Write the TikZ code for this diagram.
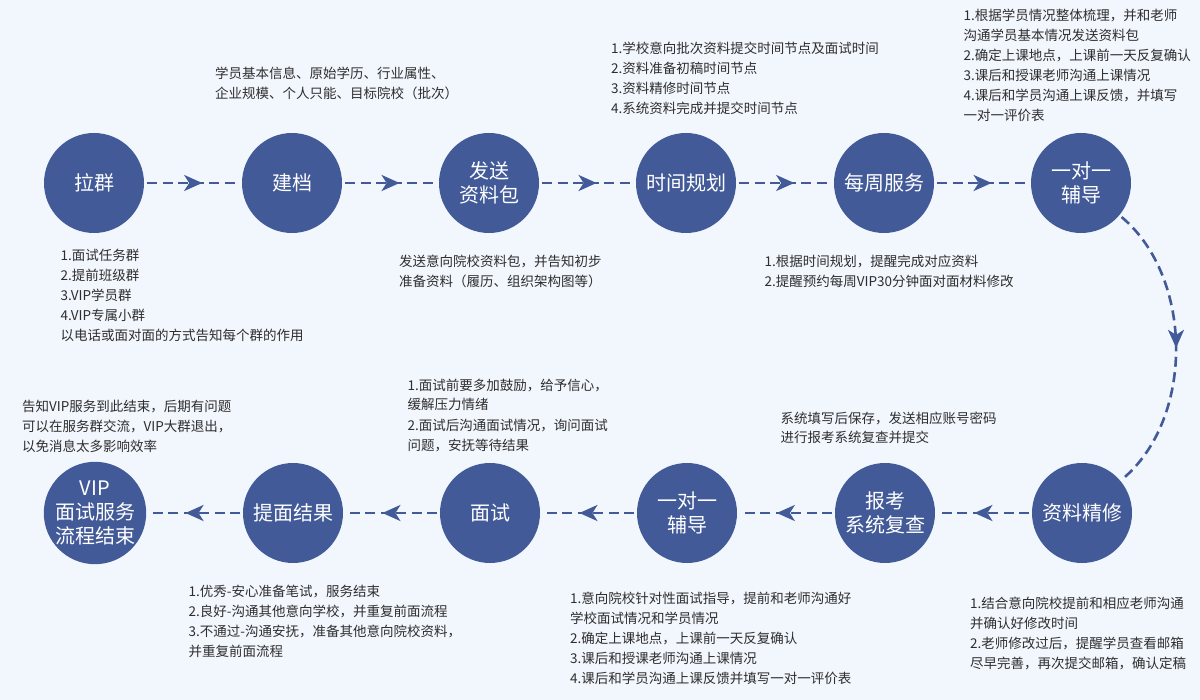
\documentclass[tikz,border=0pt]{standalone}
\usepackage{tikz}
\usepackage{xcolor}
\usepackage{fontspec}
\setmainfont{Noto Sans CJK SC}
\usetikzlibrary{arrows.meta,decorations.markings}
\definecolor{stepblue}{HTML}{425A98}
\definecolor{pagebg}{HTML}{F2F6FD}
\definecolor{notegray}{HTML}{2E2E2E}

\begin{document}
\begin{tikzpicture}[x=1pt,y=1pt]
\tikzstyle{every node}+=[inner sep=0pt]
\tikzstyle{stepnode}=[circle,fill=stepblue,minimum size=100pt,outer sep=3pt,text=white,align=center,font=\fontsize{20}{24}\selectfont]
\tikzstyle{notenode}=[anchor=base west,text=notegray,align=left,font=\fontsize{13.5}{20}\selectfont]
\tikzstyle{flow}[0.6]=[stepblue,line width=2.6pt,dash pattern=on 10pt off 5.5pt,postaction={decorate},decoration={markings,mark=at position #1 with {\arrow{Stealth[length=18pt,width=16pt,inset=5pt]}}}]
\useasboundingbox (0,0) rectangle (1200,-700);
\fill [pagebg] (0,0) rectangle (1200,-700);
% top row
\node [stepnode] (lq) at (94,-183) {拉群};
\node [stepnode] (jd) at (292,-183) {建档};
\node [stepnode] (fs) at (489,-183) {发送\\资料包};
\node [stepnode] (sj) at (686,-183) {时间规划};
\node [stepnode] (mz) at (884,-183) {每周服务};
\node [stepnode] (fd) at (1081,-183) {一对一\\辅导};
% bottom row
\node [stepnode] (jx) at (1082,-513) {资料精修};
\node [stepnode] (bk) at (885,-513) {报考\\系统复查};
\node [stepnode] (fdb) at (687,-513) {一对一\\辅导};
\node [stepnode] (ms) at (490,-513) {面试};
\node [stepnode] (tm) at (293,-513) {提面结果};
\node [stepnode] (js) at (95,-513) {VIP\\面试服务\\流程结束};
% connectors
\draw [flow] (lq) -- (jd);
\draw [flow] (jd) -- (fs);
\draw [flow] (fs) -- (sj);
\draw [flow] (sj) -- (mz);
\draw [flow] (mz) -- (fd);
\draw [flow=0.5] (fd) to [out=-40,in=40,distance=94pt] (jx);
\draw [flow] (jx) -- (bk);
\draw [flow] (bk) -- (fdb);
\draw [flow] (fdb) -- (ms);
\draw [flow] (ms) -- (tm);
\draw [flow] (tm) -- (js);
% notes (placed at the baseline of their last line)
\node [notenode] (lqnote) at (60.5,-341) {1.面试任务群\\2.提前班级群\\3.VIP学员群\\4.VIP专属小群\\以电话或面对面的方式告知每个群的作用};
\node [notenode] (jdnote) at (215,-99) {学员基本信息、原始学历、行业属性、\\企业规模、个人只能、目标院校（批次）};
\node [notenode] (fsnote) at (399,-287) {发送意向院校资料包，并告知初步\\准备资料（履历、组织架构图等）};
\node [notenode] (sjnote) at (611,-114) {1.学校意向批次资料提交时间节点及面试时间\\2.资料准备初稿时间节点\\3.资料精修时间节点\\4.系统资料完成并提交时间节点};
\node [notenode] (mznote) at (764.5,-287) {1.根据时间规划，提醒完成对应资料\\2.提醒预约每周VIP30分钟面对面材料修改};
\node [notenode] (fdnote) at (963.5,-121) {1.根据学员情况整体梳理，并和老师\\沟通学员基本情况发送资料包\\2.确定上课地点，上课前一天反复确认\\3.课后和授课老师沟通上课情况\\4.课后和学员沟通上课反馈，并填写\\一对一评价表};
\node [notenode] (jxnote) at (970,-668) {1.结合意向院校提前和相应老师沟通\\并确认好修改时间\\2.老师修改过后，提醒学员查看邮箱\\尽早完善，再次提交邮箱，确认定稿};
\node [notenode] (bknote) at (780.5,-443) {系统填写后保存，发送相应账号密码\\进行报考系统复查并提交};
\node [notenode] (fdbnote) at (570,-683) {1.意向院校针对性面试指导，提前和老师沟通好\\学校面试情况和学员情况\\2.确定上课地点，上课前一天反复确认\\3.课后和授课老师沟通上课情况\\4.课后和学员沟通上课反馈并填写一对一评价表};
\node [notenode] (msnote) at (407.5,-450) {1.面试前要多加鼓励，给予信心，\\缓解压力情绪\\2.面试后沟通面试情况，询问面试\\问题，安抚等待结果};
\node [notenode] (tmnote) at (188.5,-656) {1.优秀-安心准备笔试，服务结束\\2.良好-沟通其他意向学校，并重复前面流程\\3.不通过-沟通安抚，准备其他意向院校资料，\\并重复前面流程};
\node [notenode] (jsnote) at (22,-452) {告知VIP服务到此结束，后期有问题\\可以在服务群交流，VIP大群退出，\\以免消息太多影响效率};
\end{tikzpicture}
\end{document}
